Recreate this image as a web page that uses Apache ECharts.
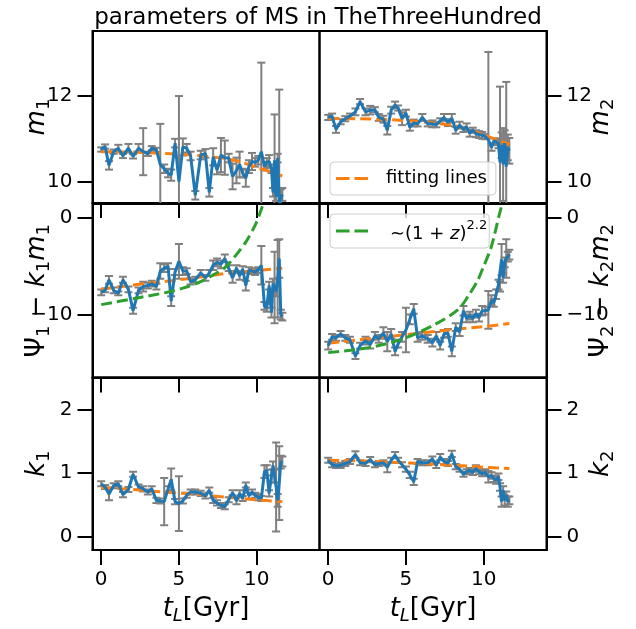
<!DOCTYPE html>
<html>
<head>
<meta charset="utf-8">
<script src="https://cdn.jsdelivr.net/npm/echarts@6/dist/echarts.min.js"></script>
<style>html,body{margin:0;padding:0;background:#fff}#c{width:636px;height:629px}</style>
</head>
<body>
<div id="c"></div>
<script>
// ---- data (lookback time in Gyr) ----
const T = [0,0.25,0.5,0.8,1.1,1.4,1.75,2.05,2.4,2.7,3.0,3.25,3.55,3.8,4.05,4.3,4.5,4.75,5.0,5.25,5.5,5.75,6.05,6.4,6.7,6.95,7.2,7.45,7.7,7.95,8.2,8.45,8.7,8.9,9.1,9.3,9.5,9.7,9.9,10.1,10.3,10.5,10.65,10.8,10.95,11.05,11.15,11.25,11.35,11.45,11.55,11.65];

const M1 = [10.75,10.82,10.38,10.70,10.78,10.60,10.78,10.59,10.78,10.70,10.65,10.78,10.74,10.40,10.30,10.20,10.15,10.90,10.00,10.81,10.78,10.60,9.68,10.62,10.66,9.75,10.58,10.27,10.62,10.56,10.55,10.12,10.26,10.40,10.20,10.08,10.35,10.47,10.45,10.50,10.70,10.36,10.45,10.47,10.30,9.75,10.50,9.65,10.55,9.50,9.62,9.70];
const M1_ERR = [0.05,0.05,0.1,0.05,0.08,0.05,0.1,0.05,0.1,0.55,0.05,0.05,0.05,0.95,0.1,0.1,0.13,0.1,2.0,0.2,0.1,0.1,0.1,0.1,0.1,0.1,0.2,0.1,0.4,0.4,0.1,0.3,0.3,0.3,0.1,0.2,0.15,0.2,0.1,0.1,2.08,0.1,0.1,0.15,0.1,0.1,1.07,0.1,0.1,2.65,0.2,0.15];

const M2 = [11.50,11.53,11.22,11.40,11.47,11.53,11.63,11.87,11.63,11.67,11.68,11.50,11.46,11.20,11.67,11.79,11.72,11.47,11.60,11.27,11.37,11.35,11.50,11.35,11.35,11.33,11.42,11.50,11.38,11.48,11.20,11.32,11.22,11.28,11.13,11.20,11.12,11.10,11.08,11.05,10.98,10.80,10.95,10.93,10.88,10.45,10.85,10.40,10.90,10.35,10.80,10.72];
const M2_ERR = [0.06,0.06,0.08,0.06,0.06,0.06,0.08,0.06,0.08,0.1,0.06,0.08,0.08,0.1,0.08,0.08,0.06,0.15,0.08,0.08,0.08,0.06,0.08,0.06,0.08,0.06,0.06,0.08,0.08,0.1,0.08,0.08,0.06,0.08,0.08,0.06,0.08,0.08,0.08,0.06,2.05,0.08,0.06,0.08,0.1,1.77,0.3,0.85,0.3,1.98,0.3,0.3];

const PSI1 = [-7.7,-7.5,-6.4,-7.5,-7.8,-6.4,-7.4,-9.6,-7.5,-7.1,-7.0,-6.8,-7.1,-5.5,-5.2,-5.0,-8.6,-5.6,-4.5,-5.5,-5.5,-6.6,-6.4,-5.7,-6.2,-5.7,-4.9,-4.6,-4.8,-4.2,-5.2,-6.2,-5.2,-6.0,-5.3,-7.0,-5.4,-5.5,-5.6,-5.4,-4.9,-9.1,-9.3,-7.0,-9.8,-6.8,-7.2,-7.6,-6.3,-4.2,-10.0,-10.2];
const PSI1_ERR = [0.3,0.2,0.4,0.3,0.2,0.3,0.3,0.3,0.3,0.5,0.3,0.3,0.3,0.8,0.4,0.3,0.5,0.3,1.8,0.4,0.3,0.3,0.3,0.3,0.3,0.3,0.5,0.4,0.4,0.4,0.3,0.5,0.3,0.4,0.3,0.5,0.3,0.3,0.3,0.3,2.0,0.4,0.4,0.4,0.5,0.5,3.7,0.5,4.0,2.0,0.5,0.4];

const PSI2 = [-13.2,-12.3,-12.4,-12.0,-12.4,-12.6,-14.3,-13.2,-12.7,-13.1,-12.2,-12.5,-11.9,-12.8,-12.0,-13.8,-13.0,-12.3,-11.6,-10.5,-9.4,-12.4,-12.2,-12.5,-12.9,-12.2,-13.2,-12.0,-11.9,-13.8,-11.3,-11.8,-9.6,-10.4,-10.1,-10.4,-9.9,-10.3,-9.6,-9.6,-9.5,-8.5,-8.8,-7.9,-6.9,-7.1,-4.3,-6.2,-4.6,-4.2,-4.0,-3.8];
const PSI2_ERR = [0.4,0.3,0.3,0.3,0.3,0.3,0.3,0.3,0.4,0.4,0.4,0.4,0.6,1.0,0.5,0.4,0.4,0.5,2.3,0.5,0.5,0.4,0.4,0.4,0.4,0.4,0.4,0.4,0.4,0.5,0.4,0.4,0.5,0.4,0.4,0.4,0.4,0.4,0.5,0.4,1.95,0.5,0.4,0.5,0.5,0.5,1.6,0.5,0.5,2.0,0.5,0.5];

const K1 = [0.83,0.78,0.67,0.80,0.83,0.66,0.74,0.98,0.78,0.75,0.70,0.75,0.57,0.56,0.55,0.75,0.90,0.55,0.52,0.56,0.65,0.70,0.70,0.68,0.64,0.73,0.57,0.53,0.49,0.47,0.58,0.69,0.56,0.68,0.60,0.81,0.64,0.70,0.65,0.62,0.60,1.02,1.04,0.68,0.95,1.12,0.95,0.78,0.57,0.84,1.17,1.18];
const K1_ERR = [0.04,0.03,0.1,0.04,0.04,0.04,0.04,0.04,0.04,0.04,0.04,0.04,0.04,0.04,0.37,0.04,0.17,0.04,0.43,0.04,0.04,0.04,0.04,0.04,0.04,0.04,0.04,0.04,0.04,0.04,0.04,0.04,0.05,0.05,0.04,0.04,0.05,0.04,0.04,0.05,0.04,0.1,0.08,0.05,0.1,0.06,0.1,0.7,0.1,0.58,0.1,0.08];

const K2 = [1.20,1.13,1.11,1.12,1.15,1.18,1.29,1.16,1.15,1.21,1.13,1.15,1.16,1.09,1.20,1.28,1.20,1.13,1.06,0.97,0.86,1.18,1.16,1.16,1.22,1.12,1.25,1.18,1.15,1.30,1.10,1.06,0.98,1.02,1.04,1.01,1.07,1.02,0.99,1.01,0.94,0.96,0.91,0.89,0.94,0.78,0.55,0.73,0.57,0.65,0.55,0.57];
const K2_ERR = [0.04,0.04,0.03,0.04,0.04,0.04,0.05,0.04,0.04,0.04,0.04,0.04,0.04,0.08,0.04,0.05,0.04,0.04,0.04,0.05,0.05,0.04,0.04,0.04,0.04,0.04,0.05,0.04,0.04,0.05,0.04,0.04,0.04,0.04,0.04,0.04,0.05,0.04,0.04,0.05,0.09,0.05,0.05,0.06,0.05,0.06,0.08,0.06,0.08,0.06,0.08,0.06];

// fitting lines
const FIT_T = [0,2,4,6,8,9,10,11,11.65];
const FIT_M1 = [10.70,10.69,10.66,10.62,10.54,10.46,10.33,10.22,10.13];
const FIT_M2 = [11.48,11.47,11.45,11.40,11.32,11.22,11.09,10.96,10.87];
const FIT_PSI1 = [-7.37,-6.95,-6.6,-6.2,-5.75,-5.6,-5.45,-5.3,-5.2];
const FIT_PSI2 = [-12.97,-12.6,-12.25,-11.9,-11.55,-11.4,-11.25,-11.05,-10.92];
const FIT_K1 = [0.77,0.74,0.70,0.67,0.62,0.60,0.58,0.56,0.55];
const FIT_K2 = [1.20,1.19,1.17,1.15,1.12,1.11,1.09,1.08,1.07];

// ~(1+z)^2.2 curves
const GREEN_T1 = [0,2.05,4.18,5.25,6.32,7.39,8.03,8.67,9.31,9.95,10.27,10.49,10.7];
const GREEN_PSI1 = [-8.97,-8.36,-7.71,-7.26,-6.65,-5.73,-5.04,-3.85,-2.48,-0.6,0.77,1.8,3.2];
const GREEN_T2 = [0,2.58,4.72,6.85,8.35,9.0,9.63,10.0,10.49,11.02,11.24,11.4];
const GREEN_PSI2 = [-13.93,-13.42,-12.56,-11.03,-9.49,-8.1,-6.41,-5.0,-2.99,0.43,1.8,3.5];

const X_TICKS = [0,5,10];
const Y_TICKS = [[10,12],[-10,0],[0,1,2]];
const Y_RANGE = [[9.5,13.52],[-16.5,1.43],[-0.21,2.5]];
const X_RANGE = [-0.56,14.04];

const TITLE = 'parameters of MS in TheThreeHundred';
const FIT_NAME = 'fitting lines';
const GREEN_NAME = '~(1+z)^2.2';

// ---- layout ----
const FONT = 'DejaVu Sans';
const colLeft = [92.5, 319.5], colW = 227;
const rowTop = [31, 204, 377.5], rowH = [172, 173.5, 172.5];

const panels = [
  {r:0,c:0,v:M1,e:M1_ERR,f:FIT_M1,name:'{i|m}{s|1}'},
  {r:0,c:1,v:M2,e:M2_ERR,f:FIT_M2,name:'{i|m}{s|2}'},
  {r:1,c:0,v:PSI1,e:PSI1_ERR,f:FIT_PSI1,name:'{n|Ψ}{s|1}{n| − }{i|k}{s|1}{i|m}{s|1}',gt:GREEN_T1,gv:GREEN_PSI1},
  {r:1,c:1,v:PSI2,e:PSI2_ERR,f:FIT_PSI2,name:'{n|Ψ}{s|2}{n| − }{i|k}{s|2}{i|m}{s|2}',gt:GREEN_T2,gv:GREEN_PSI2},
  {r:2,c:0,v:K1,e:K1_ERR,f:FIT_K1,name:'{i|k}{s|1}'},
  {r:2,c:1,v:K2,e:K2_ERR,f:FIT_K2,name:'{i|k}{s|2}'}
];

const nameRich = {
  n:{fontFamily:FONT,fontSize:26,color:'#000',lineHeight:30},
  i:{fontFamily:FONT,fontSize:26,fontStyle:'italic',color:'#000',lineHeight:30},
  s:{fontFamily:FONT,fontSize:18,color:'#000',lineHeight:18,padding:[14,0,0,0]},
  si:{fontFamily:FONT,fontSize:18,fontStyle:'italic',color:'#000',lineHeight:18,padding:[14,0,0,0]}
};
const fmt = v => String(v).replace('-', '\u2212');

const grid = [], xAxis = [], yAxis = [], series = [];
panels.forEach((p, k) => {
  grid.push({left:colLeft[p.c], top:rowTop[p.r], width:colW, height:rowH[p.r],
    outerBoundsMode:'none', containLabel:false,
    show:true, borderColor:'#000', borderWidth:2, backgroundColor:'transparent'});
  const bottom = p.r === 2;
  xAxis.push({type:'value', gridIndex:k, min:X_RANGE[0], max:X_RANGE[1], position:'bottom',
    splitLine:{show:false},
    axisLine:{show:true,onZero:false,lineStyle:{color:'#000',width:2}},
    axisTick:{show:true,length:15,lineStyle:{color:'#000',width:2},customValues:X_TICKS},
    axisLabel:{show:bottom,customValues:X_TICKS,fontFamily:FONT,fontSize:20,color:'#000',margin:20,formatter:fmt},
    name: bottom ? '{i|t}{si|L}{n|[Gyr]}' : '', nameLocation:'middle', nameGap:44, nameMoveOverlap:false,
    nameTextStyle:{rich:nameRich}
  });
  yAxis.push({type:'value', gridIndex:k, min:Y_RANGE[p.r][0], max:Y_RANGE[p.r][1],
    position: p.c === 0 ? 'left' : 'right',
    splitLine:{show:false},
    axisLine:{show:true,onZero:false,lineStyle:{color:'#000',width:2}},
    axisTick:{show:true,length:15,lineStyle:{color:'#000',width:2},customValues:Y_TICKS[p.r]},
    axisLabel:{customValues:Y_TICKS[p.r],fontFamily:FONT,fontSize:20,color:'#000',margin:20,formatter:fmt},
    name:p.name, nameLocation:'middle', nameRotate:90, nameGap:40, nameMoveOverlap:false,
    nameTextStyle:{rich:nameRich}
  });
  // error bars
  series.push({type:'custom', xAxisIndex:k, yAxisIndex:k, clip:true, z:2, silent:true,
    data:T.map((t,i)=>[t,p.v[i],p.e[i]]),
    encode:{x:0,y:1},
    renderItem:(params, api) => {
      const x = api.value(0), y = api.value(1), e = api.value(2);
      const a = api.coord([x, y + e]), b = api.coord([x, y - e]);
      const w = 4, st = {stroke:'#808080', lineWidth:2};
      return {type:'group', children:[
        {type:'line', shape:{x1:a[0],y1:a[1],x2:b[0],y2:b[1]}, style:st},
        {type:'line', shape:{x1:a[0]-w,y1:a[1],x2:a[0]+w,y2:a[1]}, style:st},
        {type:'line', shape:{x1:b[0]-w,y1:b[1],x2:b[0]+w,y2:b[1]}, style:st}
      ]};
    }
  });
  // fitting line
  series.push({type:'line', name:FIT_NAME, xAxisIndex:k, yAxisIndex:k, z:3, symbol:'none', silent:true,
    data:FIT_T.map((t,i)=>[t,p.f[i]]),
    lineStyle:{color:'#ff7f0e', width:3, type:[11,5]}, itemStyle:{color:'#ff7f0e'}});
  // data line
  series.push({type:'line', name:'data'+k, xAxisIndex:k, yAxisIndex:k, z:4, symbol:'none', silent:true,
    data:T.map((t,i)=>[t,p.v[i]]),
    lineStyle:{color:'#1f77b4', width:3}, itemStyle:{color:'#1f77b4'}});
  if (p.gt) {
    series.push({type:'line', name:GREEN_NAME, xAxisIndex:k, yAxisIndex:k, z:5, symbol:'none', silent:true, smooth:0.3,
      data:p.gt.map((t,i)=>[t,p.gv[i]]),
      lineStyle:{color:'#2ca02c', width:3, type:[11,5]}, itemStyle:{color:'#2ca02c'}});
  }
});

const DASH_ICON = 'path://M0,0 L14,0 L14,3 L0,3 Z M19,0 L33,0 L33,3 L19,3 Z';
const legendCommon = {
  orient:'horizontal', itemWidth:32, itemHeight:3, selectedMode:false, icon:DASH_ICON,
  backgroundColor:'rgba(255,255,255,0.8)', borderColor:'#cccccc', borderWidth:1, borderRadius:4,
  padding:[7,9,7,6], z:10
};
const legend = [
  Object.assign({}, legendCommon, {data:[{name:FIT_NAME, icon:DASH_ICON}], left:330, top:162,
    textStyle:{fontFamily:FONT, fontSize:18, color:'#000', lineHeight:19, padding:[0,0,0,13]}}),
  Object.assign({}, legendCommon, {data:[{name:GREEN_NAME, icon:DASH_ICON}], left:330, top:214,
    padding:[5,2,5,6],
    formatter: () => '{n|∼(1 + }{i|z}{n|)}{p|2.2}',
    textStyle:{fontFamily:FONT, fontSize:18, color:'#000', padding:[0,0,0,17],
      rich:{
        n:{fontFamily:FONT,fontSize:18,color:'#000',lineHeight:24,verticalAlign:'bottom'},
        i:{fontFamily:FONT,fontSize:18,fontStyle:'italic',color:'#000',lineHeight:24,verticalAlign:'bottom'},
        p:{fontFamily:FONT,fontSize:13,color:'#000',lineHeight:13,verticalAlign:'top',padding:[0,0,11,0]}
      }}})
];

const chart = echarts.init(document.getElementById('c'), null, {renderer:'canvas'});
chart.setOption({
  animation:false,
  backgroundColor:'#fff',
  title:{text:TITLE, left:'center', top:2, textStyle:{fontFamily:FONT, fontSize:23, fontWeight:'normal', color:'#000'}},
  legend, grid, xAxis, yAxis, series
});
</script>
</body>
</html>
